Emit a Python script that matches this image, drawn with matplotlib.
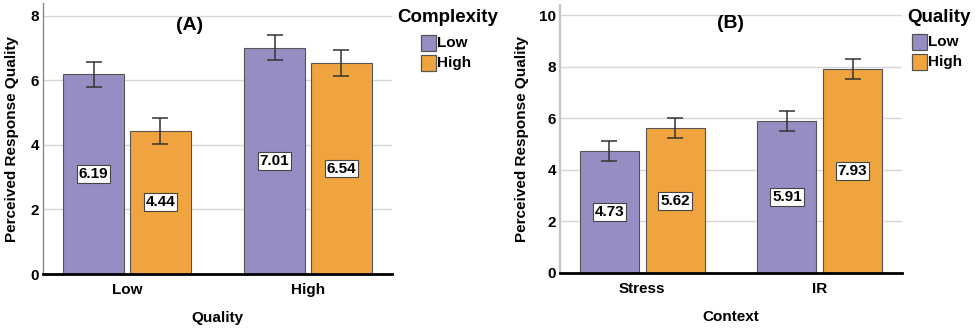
import matplotlib
matplotlib.use("Agg")
import matplotlib.pyplot as plt
from matplotlib.patches import Rectangle
import numpy as np

plt.rcParams['font.family'] = ['Liberation Sans', 'DejaVu Sans']
plt.rcParams['font.weight'] = 'bold'

# Panel A: perceived quality by answer quality and complexity
groups_a = ["Low", "High"]
series_a = ["Low", "High"]            # complexity
means_a = {"Low": [6.19, 7.01], "High": [4.44, 6.54]}
errs_a = {"Low": [0.39, 0.39], "High": [0.40, 0.39]}

# Panel B: perceived quality by context and answer quality
groups_b = ["Stress", "IR"]
series_b = ["Low", "High"]            # quality
means_b = {"Low": [4.73, 5.91], "High": [5.62, 7.93]}
errs_b = {"Low": [0.39, 0.39], "High": [0.39, 0.39]}

colors = {"Low": "#978DC2", "High": "#F0A43F"}

W, H = 975, 328
fig = plt.figure(figsize=(W / 100, H / 100), dpi=100)


def px_axes(left, right, top, bottom):
    return [left / W, 1 - bottom / H, (right - left) / W, (bottom - top) / H]


def draw_panel(ax, groups, series, means, errs, xlabel, ymax, yticks, spine_color, spine_lw):
    x = np.arange(len(groups))
    width = 0.333
    offs = [-0.185, 0.185]
    for s, off in zip(series, offs):
        vals = means[s]
        ax.bar(x + off, vals, width=width, color=colors[s], edgecolor="#555555",
               linewidth=0.8, zorder=2)
        ax.errorbar(x + off, vals, yerr=errs[s], fmt="none", ecolor="#333333",
                    elinewidth=1.1, capsize=6, capthick=1.1, zorder=3)
        for xi, v in zip(x + off, vals):
            ax.text(xi, v / 2, f"{v:.2f}", ha="center", va="center", fontsize=11,
                    fontweight="bold", zorder=4,
                    bbox=dict(boxstyle="square,pad=0.13", facecolor="white",
                              edgecolor="#444444", linewidth=0.8))
    ax.set_xlim(-0.464, 1.464)
    ax.set_ylim(0, ymax)
    ax.set_yticks(yticks)
    ax.set_xticks(x)
    ax.set_xticklabels(groups, fontsize=11, fontweight="bold")
    ax.tick_params(axis="both", length=0)
    ax.tick_params(axis="x", pad=6.5)
    ax.tick_params(axis="y", pad=3, labelsize=11)
    for lab in ax.get_yticklabels():
        lab.set_fontweight("bold")
    ax.yaxis.grid(True, color="#d6d6d6", linewidth=1.0, zorder=0)
    ax.set_axisbelow(True)
    for side in ("top", "right"):
        ax.spines[side].set_visible(False)
    ax.spines["left"].set_color(spine_color)
    ax.spines["left"].set_linewidth(spine_lw)
    ax.spines["bottom"].set_color("black")
    ax.spines["bottom"].set_linewidth(2.0)
    ax.spines["bottom"].set_zorder(5)
    ax.set_xlabel(xlabel, fontsize=11, fontweight="bold", labelpad=10)
    ax.set_ylabel("Perceived Response Quality", fontsize=11, fontweight="bold")


def draw_legend(title, left, title_y, patch_x, rows_y, series):
    fig.text(left / W, 1 - title_y / H, title, fontsize=13.5, fontweight="bold",
             ha="left", va="center")
    for s, yc in zip(series, rows_y):
        fig.add_artist(Rectangle((patch_x / W, 1 - (yc + 7.5) / H), 14.5 / W, 15 / H,
                                 transform=fig.transFigure, facecolor=colors[s],
                                 edgecolor="#555555", linewidth=0.9))
        fig.text((patch_x + 16) / W, 1 - yc / H, s, fontsize=11, fontweight="bold",
                 ha="left", va="center")


ax_a = fig.add_axes(px_axes(43, 392, 3, 274))
draw_panel(ax_a, groups_a, series_a, means_a, errs_a, "Quality", 8.4, [0, 2, 4, 6, 8],
           "#8a8a8a", 1.0)
ax_a.yaxis.set_label_coords((19 - 43) / 349, 0.5)

ax_b = fig.add_axes(px_axes(560, 902, 5, 273))
draw_panel(ax_b, groups_b, series_b, means_b, errs_b, "Context", 10.4, [0, 2, 4, 6, 8, 10],
           "#c4c4c4", 1.6)
ax_b.yaxis.set_label_coords((529 - 560) / 342, 0.5)

fig.text(190 / W, 1 - 25 / H, "(A)", fontsize=14, fontweight="bold", ha="center", va="center")
fig.text(731 / W, 1 - 24 / H, "(B)", fontsize=14, fontweight="bold", ha="center", va="center")

draw_legend("Complexity", 397, 17, 421, [43, 63], series_a)
draw_legend("Quality", 907, 17, 912, [42, 62], series_b)

fig.savefig("out.png", dpi=100)
